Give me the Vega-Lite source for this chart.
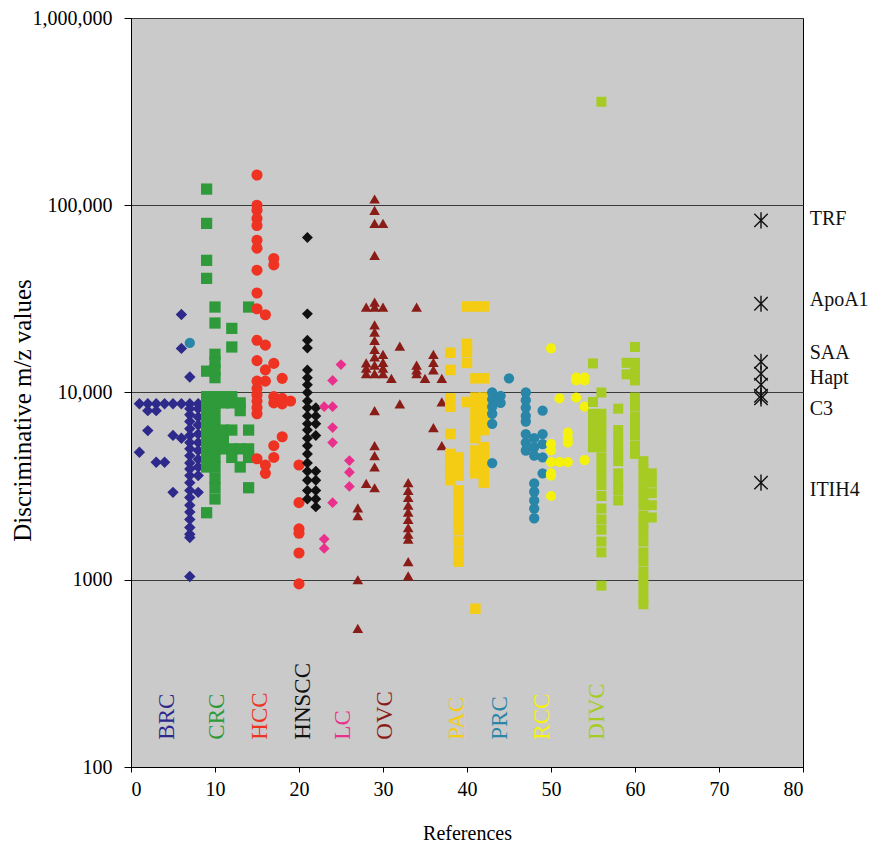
{
  "$schema": "https://vega.github.io/schema/vega-lite/v6.json",
  "autosize": {"type": "none"},
  "padding": {"left": 131, "top": 18, "right": 67, "bottom": 82},
  "width": 672,
  "height": 749,
  "background": "#ffffff",
  "config": {
    "font": "Liberation Serif",
    "view": {"fill": "#cacaca", "stroke": "#000000", "strokeWidth": 1},
    "axis": {"labelFont": "Liberation Serif", "titleFont": "Liberation Serif", "labelColor": "#000", "titleColor": "#000", "titleFontWeight": "normal", "domainColor": "#000", "tickColor": "#000"}
  },
  "datasets": {
    "pts": [
      {"g":"BRC","x":1,"y":8700},{"g":"BRC","x":2,"y":8700},{"g":"BRC","x":3,"y":8700},{"g":"BRC","x":4,"y":8700},{"g":"BRC","x":5,"y":8700},{"g":"BRC","x":6,"y":8700},{"g":"BRC","x":7,"y":8700},{"g":"BRC","x":8,"y":8700},
      {"g":"BRC","x":2,"y":8000},{"g":"BRC","x":3,"y":8000},
      {"g":"BRC","x":6,"y":26100},{"g":"BRC","x":6,"y":17200},{"g":"BRC","x":7,"y":12100},
      {"g":"BRC","x":2,"y":6260},{"g":"BRC","x":5,"y":5900},{"g":"BRC","x":6,"y":5700},{"g":"BRC","x":1,"y":4800},{"g":"BRC","x":3,"y":4240},{"g":"BRC","x":4,"y":4240},{"g":"BRC","x":5,"y":2930},{"g":"BRC","x":8,"y":2930},
      {"g":"BRC","x":7,"y":8200},{"g":"BRC","x":7,"y":7600},{"g":"BRC","x":7,"y":7000},{"g":"BRC","x":7,"y":6400},{"g":"BRC","x":7,"y":5900},{"g":"BRC","x":7,"y":5400},{"g":"BRC","x":7,"y":5000},{"g":"BRC","x":7,"y":4600},{"g":"BRC","x":7,"y":4200},{"g":"BRC","x":7,"y":3900},{"g":"BRC","x":7,"y":3600},{"g":"BRC","x":7,"y":3300},{"g":"BRC","x":7,"y":3000},{"g":"BRC","x":7,"y":2750},{"g":"BRC","x":7,"y":2500},{"g":"BRC","x":7,"y":2300},{"g":"BRC","x":7,"y":2100},{"g":"BRC","x":7,"y":1900},{"g":"BRC","x":7,"y":1750},{"g":"BRC","x":7,"y":1680},{"g":"BRC","x":7,"y":1040},
      {"g":"BRC","x":8,"y":8200},{"g":"BRC","x":8,"y":7400},{"g":"BRC","x":8,"y":6700},{"g":"BRC","x":8,"y":6000},{"g":"BRC","x":8,"y":5400},{"g":"BRC","x":8,"y":4900},{"g":"BRC","x":8,"y":4400},{"g":"BRC","x":8,"y":4000},{"g":"BRC","x":8,"y":3600},

      {"g":"CRC","x":9,"y":122000},{"g":"CRC","x":9,"y":80000},{"g":"CRC","x":9,"y":50800},{"g":"CRC","x":9,"y":40700},{"g":"CRC","x":9,"y":13000},{"g":"CRC","x":9,"y":9500},{"g":"CRC","x":9,"y":8800},{"g":"CRC","x":9,"y":8000},{"g":"CRC","x":9,"y":7000},{"g":"CRC","x":9,"y":6300},{"g":"CRC","x":9,"y":5600},{"g":"CRC","x":9,"y":5000},{"g":"CRC","x":9,"y":4500},{"g":"CRC","x":9,"y":4000},{"g":"CRC","x":9,"y":2280},
      {"g":"CRC","x":10,"y":28600},{"g":"CRC","x":10,"y":23500},{"g":"CRC","x":10,"y":16000},{"g":"CRC","x":10,"y":14500},{"g":"CRC","x":10,"y":13200},{"g":"CRC","x":10,"y":12000},{"g":"CRC","x":10,"y":9500},{"g":"CRC","x":10,"y":8800},{"g":"CRC","x":10,"y":8000},{"g":"CRC","x":10,"y":7000},{"g":"CRC","x":10,"y":6300},{"g":"CRC","x":10,"y":5600},{"g":"CRC","x":10,"y":5000},{"g":"CRC","x":10,"y":4500},{"g":"CRC","x":10,"y":4000},{"g":"CRC","x":10,"y":3500},{"g":"CRC","x":10,"y":3100},{"g":"CRC","x":10,"y":2700},
      {"g":"CRC","x":11,"y":9500},{"g":"CRC","x":11,"y":8800},{"g":"CRC","x":11,"y":6300},{"g":"CRC","x":11,"y":5600},{"g":"CRC","x":11,"y":5000},
      {"g":"CRC","x":12,"y":22000},{"g":"CRC","x":12,"y":17500},{"g":"CRC","x":12,"y":9500},{"g":"CRC","x":12,"y":8800},{"g":"CRC","x":12,"y":6300},{"g":"CRC","x":12,"y":5000},{"g":"CRC","x":12,"y":4500},
      {"g":"CRC","x":13,"y":8800},{"g":"CRC","x":13,"y":8000},{"g":"CRC","x":13,"y":5000},{"g":"CRC","x":13,"y":4000},
      {"g":"CRC","x":14,"y":28600},{"g":"CRC","x":14,"y":6300},{"g":"CRC","x":14,"y":5000},{"g":"CRC","x":14,"y":4500},{"g":"CRC","x":14,"y":3100},

      {"g":"HCC","x":15,"y":145000},{"g":"HCC","x":15,"y":100000},{"g":"HCC","x":15,"y":94000},{"g":"HCC","x":15,"y":85000},{"g":"HCC","x":15,"y":78000},{"g":"HCC","x":15,"y":65000},{"g":"HCC","x":15,"y":59000},{"g":"HCC","x":15,"y":45000},{"g":"HCC","x":15,"y":34000},{"g":"HCC","x":15,"y":28000},{"g":"HCC","x":15,"y":19000},{"g":"HCC","x":15,"y":14800},{"g":"HCC","x":15,"y":11500},{"g":"HCC","x":15,"y":10500},{"g":"HCC","x":15,"y":9700},{"g":"HCC","x":15,"y":9000},{"g":"HCC","x":15,"y":8300},{"g":"HCC","x":15,"y":7700},{"g":"HCC","x":15,"y":4430},
      {"g":"HCC","x":16,"y":26000},{"g":"HCC","x":16,"y":17900},{"g":"HCC","x":16,"y":13200},{"g":"HCC","x":16,"y":11500},{"g":"HCC","x":16,"y":4100},{"g":"HCC","x":16,"y":3700},
      {"g":"HCC","x":17,"y":52000},{"g":"HCC","x":17,"y":48000},{"g":"HCC","x":17,"y":14300},{"g":"HCC","x":17,"y":9500},{"g":"HCC","x":17,"y":8800},{"g":"HCC","x":17,"y":5200},{"g":"HCC","x":17,"y":4500},
      {"g":"HCC","x":18,"y":11900},{"g":"HCC","x":18,"y":9300},{"g":"HCC","x":18,"y":8700},{"g":"HCC","x":18,"y":5800},
      {"g":"HCC","x":19,"y":9000},
      {"g":"HCC","x":20,"y":4100},{"g":"HCC","x":20,"y":2580},{"g":"HCC","x":20,"y":1870},{"g":"HCC","x":20,"y":1770},{"g":"HCC","x":20,"y":1390},{"g":"HCC","x":20,"y":950},

      {"g":"HNSCC","x":21,"y":67200},{"g":"HNSCC","x":21,"y":26300},{"g":"HNSCC","x":21,"y":19000},{"g":"HNSCC","x":21,"y":17300},{"g":"HNSCC","x":21,"y":13200},{"g":"HNSCC","x":21,"y":12000},{"g":"HNSCC","x":21,"y":11000},{"g":"HNSCC","x":21,"y":10000},{"g":"HNSCC","x":21,"y":9000},{"g":"HNSCC","x":21,"y":8300},{"g":"HNSCC","x":21,"y":7500},{"g":"HNSCC","x":21,"y":6800},{"g":"HNSCC","x":21,"y":6300},{"g":"HNSCC","x":21,"y":5700},{"g":"HNSCC","x":21,"y":5200},{"g":"HNSCC","x":21,"y":4700},{"g":"HNSCC","x":21,"y":4200},{"g":"HNSCC","x":21,"y":3800},{"g":"HNSCC","x":21,"y":3400},{"g":"HNSCC","x":21,"y":3000},{"g":"HNSCC","x":21,"y":2700},
      {"g":"HNSCC","x":22,"y":8300},{"g":"HNSCC","x":22,"y":7500},{"g":"HNSCC","x":22,"y":6800},{"g":"HNSCC","x":22,"y":5900},{"g":"HNSCC","x":22,"y":3800},{"g":"HNSCC","x":22,"y":3400},{"g":"HNSCC","x":22,"y":3000},{"g":"HNSCC","x":22,"y":2700},{"g":"HNSCC","x":22,"y":2450},

      {"g":"LC","x":25,"y":14100},{"g":"LC","x":24,"y":11600},{"g":"LC","x":24,"y":8400},{"g":"LC","x":24,"y":6500},{"g":"LC","x":24,"y":5400},{"g":"LC","x":24,"y":2580},{"g":"LC","x":23,"y":8400},{"g":"LC","x":23,"y":1650},{"g":"LC","x":23,"y":1470},{"g":"LC","x":26,"y":4330},{"g":"LC","x":26,"y":3750},{"g":"LC","x":26,"y":3150},

      {"g":"OVC","x":29,"y":108000},{"g":"OVC","x":29,"y":94000},{"g":"OVC","x":29,"y":80000},{"g":"OVC","x":29,"y":54000},{"g":"OVC","x":29,"y":30400},{"g":"OVC","x":29,"y":28600},{"g":"OVC","x":29,"y":23000},{"g":"OVC","x":29,"y":21000},{"g":"OVC","x":29,"y":19000},{"g":"OVC","x":29,"y":17000},{"g":"OVC","x":29,"y":15500},{"g":"OVC","x":29,"y":14000},{"g":"OVC","x":29,"y":12600},{"g":"OVC","x":29,"y":8000},{"g":"OVC","x":29,"y":5200},{"g":"OVC","x":29,"y":4600},{"g":"OVC","x":29,"y":4000},{"g":"OVC","x":29,"y":3100},
      {"g":"OVC","x":28,"y":28600},{"g":"OVC","x":28,"y":14400},{"g":"OVC","x":28,"y":13500},{"g":"OVC","x":28,"y":12600},{"g":"OVC","x":28,"y":3270},
      {"g":"OVC","x":30,"y":80000},{"g":"OVC","x":30,"y":28600},{"g":"OVC","x":30,"y":16000},{"g":"OVC","x":30,"y":14500},{"g":"OVC","x":30,"y":13500},{"g":"OVC","x":30,"y":12600},
      {"g":"OVC","x":31,"y":11900},{"g":"OVC","x":32,"y":17700},{"g":"OVC","x":32,"y":8700},
      {"g":"OVC","x":34,"y":28600},{"g":"OVC","x":34,"y":14000},{"g":"OVC","x":34,"y":13200},{"g":"OVC","x":34,"y":12600},
      {"g":"OVC","x":36,"y":16000},{"g":"OVC","x":36,"y":14500},{"g":"OVC","x":36,"y":13200},{"g":"OVC","x":36,"y":6500},
      {"g":"OVC","x":35,"y":11900},{"g":"OVC","x":37,"y":11900},{"g":"OVC","x":37,"y":8900},{"g":"OVC","x":37,"y":5200},
      {"g":"OVC","x":27,"y":2420},{"g":"OVC","x":27,"y":2200},{"g":"OVC","x":27,"y":1000},{"g":"OVC","x":27,"y":550},
      {"g":"OVC","x":33,"y":3300},{"g":"OVC","x":33,"y":3000},{"g":"OVC","x":33,"y":2750},{"g":"OVC","x":33,"y":2500},{"g":"OVC","x":33,"y":2300},{"g":"OVC","x":33,"y":2100},{"g":"OVC","x":33,"y":1900},{"g":"OVC","x":33,"y":1750},{"g":"OVC","x":33,"y":1650},{"g":"OVC","x":33,"y":1250},{"g":"OVC","x":33,"y":1050},

      {"g":"PAC","x":40,"y":28800},{"g":"PAC","x":41,"y":28800},{"g":"PAC","x":42,"y":28800},
      {"g":"PAC","x":38,"y":16300},{"g":"PAC","x":38,"y":13200},{"g":"PAC","x":38,"y":9300},{"g":"PAC","x":38,"y":8400},{"g":"PAC","x":38,"y":6000},{"g":"PAC","x":38,"y":4700},{"g":"PAC","x":38,"y":4200},{"g":"PAC","x":38,"y":3800},{"g":"PAC","x":38,"y":3400},
      {"g":"PAC","x":39,"y":4500},{"g":"PAC","x":39,"y":4000},{"g":"PAC","x":39,"y":3600},{"g":"PAC","x":39,"y":3000},{"g":"PAC","x":39,"y":2750},{"g":"PAC","x":39,"y":2450},{"g":"PAC","x":39,"y":2200},{"g":"PAC","x":39,"y":2000},{"g":"PAC","x":39,"y":1840},{"g":"PAC","x":39,"y":1600},{"g":"PAC","x":39,"y":1400},{"g":"PAC","x":39,"y":1250},
      {"g":"PAC","x":40,"y":18200},{"g":"PAC","x":40,"y":16500},{"g":"PAC","x":40,"y":14400},{"g":"PAC","x":40,"y":8900},
      {"g":"PAC","x":41,"y":11900},{"g":"PAC","x":41,"y":9400},{"g":"PAC","x":41,"y":8500},{"g":"PAC","x":41,"y":7700},{"g":"PAC","x":41,"y":7000},{"g":"PAC","x":41,"y":6300},{"g":"PAC","x":41,"y":5700},{"g":"PAC","x":41,"y":4900},{"g":"PAC","x":41,"y":4400},{"g":"PAC","x":41,"y":4000},{"g":"PAC","x":41,"y":3700},{"g":"PAC","x":41,"y":700},
      {"g":"PAC","x":42,"y":11900},{"g":"PAC","x":42,"y":9400},{"g":"PAC","x":42,"y":8500},{"g":"PAC","x":42,"y":7700},{"g":"PAC","x":42,"y":7000},{"g":"PAC","x":42,"y":6300},{"g":"PAC","x":42,"y":5100},{"g":"PAC","x":42,"y":4900},{"g":"PAC","x":42,"y":4400},{"g":"PAC","x":42,"y":4000},{"g":"PAC","x":42,"y":3700},{"g":"PAC","x":42,"y":3300},

      {"g":"PRC","x":7,"y":18400},{"g":"PRC","x":45,"y":11900},
      {"g":"PRC","x":43,"y":10000},{"g":"PRC","x":43,"y":9200},{"g":"PRC","x":43,"y":8400},{"g":"PRC","x":43,"y":7700},{"g":"PRC","x":43,"y":6800},{"g":"PRC","x":43,"y":4200},
      {"g":"PRC","x":44,"y":9600},{"g":"PRC","x":44,"y":8800},
      {"g":"PRC","x":47,"y":10000},{"g":"PRC","x":47,"y":9100},{"g":"PRC","x":47,"y":8300},{"g":"PRC","x":47,"y":7500},{"g":"PRC","x":47,"y":7000},{"g":"PRC","x":47,"y":6000},{"g":"PRC","x":47,"y":5400},{"g":"PRC","x":47,"y":4900},
      {"g":"PRC","x":48,"y":5700},{"g":"PRC","x":48,"y":5100},{"g":"PRC","x":48,"y":4600},{"g":"PRC","x":48,"y":3270},{"g":"PRC","x":48,"y":2950},{"g":"PRC","x":48,"y":2650},{"g":"PRC","x":48,"y":2400},{"g":"PRC","x":48,"y":2130},
      {"g":"PRC","x":49,"y":8000},{"g":"PRC","x":49,"y":6000},{"g":"PRC","x":49,"y":5300},{"g":"PRC","x":49,"y":4500},{"g":"PRC","x":49,"y":3700},

      {"g":"RCC","x":50,"y":17200},{"g":"RCC","x":50,"y":5300},{"g":"RCC","x":50,"y":4900},{"g":"RCC","x":50,"y":4250},{"g":"RCC","x":50,"y":3700},{"g":"RCC","x":50,"y":3600},{"g":"RCC","x":50,"y":2800},
      {"g":"RCC","x":51,"y":9300},{"g":"RCC","x":51,"y":4250},
      {"g":"RCC","x":52,"y":6100},{"g":"RCC","x":52,"y":5700},{"g":"RCC","x":52,"y":5400},{"g":"RCC","x":52,"y":4250},
      {"g":"RCC","x":53,"y":12000},{"g":"RCC","x":53,"y":11600},{"g":"RCC","x":53,"y":9400},
      {"g":"RCC","x":54,"y":12000},{"g":"RCC","x":54,"y":11600},{"g":"RCC","x":54,"y":8400},{"g":"RCC","x":54,"y":4350},

      {"g":"DIVC","x":56,"y":357000},
      {"g":"DIVC","x":55,"y":14300},{"g":"DIVC","x":55,"y":8900},{"g":"DIVC","x":55,"y":7700},{"g":"DIVC","x":55,"y":7000},{"g":"DIVC","x":55,"y":6300},{"g":"DIVC","x":55,"y":5700},{"g":"DIVC","x":55,"y":5100},
      {"g":"DIVC","x":56,"y":10000},{"g":"DIVC","x":56,"y":7700},{"g":"DIVC","x":56,"y":7000},{"g":"DIVC","x":56,"y":6300},{"g":"DIVC","x":56,"y":5700},{"g":"DIVC","x":56,"y":5100},{"g":"DIVC","x":56,"y":4500},{"g":"DIVC","x":56,"y":4000},{"g":"DIVC","x":56,"y":3600},{"g":"DIVC","x":56,"y":3200},{"g":"DIVC","x":56,"y":2800},{"g":"DIVC","x":56,"y":2400},{"g":"DIVC","x":56,"y":2100},{"g":"DIVC","x":56,"y":1850},{"g":"DIVC","x":56,"y":1600},{"g":"DIVC","x":56,"y":1400},{"g":"DIVC","x":56,"y":930},
      {"g":"DIVC","x":58,"y":8200},{"g":"DIVC","x":58,"y":6300},{"g":"DIVC","x":58,"y":5700},{"g":"DIVC","x":58,"y":5100},{"g":"DIVC","x":58,"y":4700},{"g":"DIVC","x":58,"y":4300},{"g":"DIVC","x":58,"y":3700},{"g":"DIVC","x":58,"y":3300},{"g":"DIVC","x":58,"y":3000},{"g":"DIVC","x":58,"y":2650},
      {"g":"DIVC","x":59,"y":14400},{"g":"DIVC","x":59,"y":12500},
      {"g":"DIVC","x":60,"y":17500},{"g":"DIVC","x":60,"y":14400},{"g":"DIVC","x":60,"y":13000},{"g":"DIVC","x":60,"y":11600},{"g":"DIVC","x":60,"y":9400},{"g":"DIVC","x":60,"y":8400},{"g":"DIVC","x":60,"y":7400},{"g":"DIVC","x":60,"y":6600},{"g":"DIVC","x":60,"y":5900},{"g":"DIVC","x":60,"y":5200},{"g":"DIVC","x":60,"y":4700},
      {"g":"DIVC","x":61,"y":4300},{"g":"DIVC","x":61,"y":3900},{"g":"DIVC","x":61,"y":3500},{"g":"DIVC","x":61,"y":3100},{"g":"DIVC","x":61,"y":2800},{"g":"DIVC","x":61,"y":2500},{"g":"DIVC","x":61,"y":2200},{"g":"DIVC","x":61,"y":2000},{"g":"DIVC","x":61,"y":1800},{"g":"DIVC","x":61,"y":1600},{"g":"DIVC","x":61,"y":1400},{"g":"DIVC","x":61,"y":1250},{"g":"DIVC","x":61,"y":1100},{"g":"DIVC","x":61,"y":1000},{"g":"DIVC","x":61,"y":900},{"g":"DIVC","x":61,"y":800},{"g":"DIVC","x":61,"y":740},
      {"g":"DIVC","x":62,"y":3700},{"g":"DIVC","x":62,"y":3300},{"g":"DIVC","x":62,"y":2900},{"g":"DIVC","x":62,"y":2500},{"g":"DIVC","x":62,"y":2150}
    ],
    "cats": [
      {"g":"BRC","x":4.25,"y":140},{"g":"CRC","x":10.2,"y":140},{"g":"HCC","x":15.4,"y":140},{"g":"HNSCC","x":20.5,"y":140},{"g":"LC","x":25.2,"y":140},{"g":"OVC","x":30.2,"y":140},{"g":"PAC","x":38.8,"y":140},{"g":"PRC","x":43.9,"y":140},{"g":"RCC","x":48.9,"y":140},{"g":"DIVC","x":55.5,"y":140}
    ],
    "stars": [
      {"x":75,"y":83000},{"x":75,"y":29800},{"x":75,"y":14600},{"x":75,"y":12600},{"x":75,"y":11000},{"x":75,"y":9600},{"x":75,"y":9300},{"x":75,"y":3300}
    ],
    "proteins": [
      {"name":"TRF","x":80.8,"y":84500},{"name":"ApoA1","x":80.8,"y":31200},{"name":"SAA","x":80.8,"y":16300},{"name":"Hapt","x":80.8,"y":11970},{"name":"C3","x":80.8,"y":8175},{"name":"ITIH4","x":80.8,"y":3020}
    ]
  },
  "layer": [
    {
      "data": {"name": "pts"},
      "mark": {"type": "point", "filled": true, "opacity": 1},
      "encoding": {
        "x": {"field": "x", "type": "quantitative", "scale": {"domain": [0, 80], "nice": false, "zero": false},
              "axis": {"values": [0,10,20,30,40,50,60,70,80], "grid": false, "labelFont": "Liberation Serif", "titleFont": "Liberation Serif", "labelFontSize": 20, "tickSize": 5, "labelPadding": 7, "title": "References", "titleFontSize": 20, "titleFontWeight": "normal", "titleY": 66, "titleBaseline": "middle"}},
        "y": {"field": "y", "type": "quantitative", "scale": {"type": "log", "domain": [100, 1000000], "nice": false},
              "axis": {"values": [100,1000,10000,100000,1000000], "labelExpr": "datum.value >= 10000 ? format(datum.value, ',') : format(datum.value, 'd')", "grid": true, "gridColor": "#3a3a3a", "gridWidth": 1, "gridOpacity": 1, "labelFont": "Liberation Serif", "titleFont": "Liberation Serif", "labelFontSize": 20, "tickSize": 7, "labelPadding": 12, "title": "Discriminative m/z values", "titleFontSize": 25, "titleFontWeight": "normal", "titleX": -109, "titleY": 392, "titleAlign": "center", "titleBaseline": "middle", "titleAngle": 270}},
        "color": {"field": "g", "type": "nominal", "legend": null,
                  "scale": {"domain": ["BRC","CRC","HCC","HNSCC","LC","OVC","PAC","PRC","RCC","DIVC"],
                            "range": ["#2e2a8c","#2e9a3a","#ee3322","#111111","#e8308c","#8a1c18","#f4cc14","#2a86a8","#f4f20c","#a6cc24"]}},
        "shape": {"field": "g", "type": "nominal", "legend": null,
                  "scale": {"domain": ["BRC","CRC","HCC","HNSCC","LC","OVC","PAC","PRC","RCC","DIVC"],
                            "range": ["diamond","square","circle","diamond","diamond","triangle-up","square","circle","circle","square"]}},
        "size": {"field": "g", "type": "nominal", "legend": null,
                 "scale": {"domain": ["BRC","CRC","HCC","HNSCC","LC","OVC","PAC","PRC","RCC","DIVC"],
                           "range": [130,100,115,130,110,130,100,115,110,100]}}
      }
    },
    {
      "data": {"name": "stars"},
      "mark": {"type": "point", "shape": "M-1,-1L1,1M1,-1L-1,1M0,-1.2L0,1.2", "filled": false, "stroke": "#111", "strokeWidth": 1.4, "size": 180, "opacity": 1},
      "encoding": {
        "x": {"field": "x", "type": "quantitative"},
        "y": {"field": "y", "type": "quantitative"}
      }
    },
    {
      "data": {"name": "cats"},
      "mark": {"type": "text", "angle": 270, "align": "left", "baseline": "middle", "font": "Liberation Serif", "fontSize": 23},
      "encoding": {
        "x": {"field": "x", "type": "quantitative"},
        "y": {"field": "y", "type": "quantitative"},
        "text": {"field": "g"},
        "color": {"field": "g", "type": "nominal", "legend": null}
      }
    },
    {
      "data": {"name": "proteins"},
      "mark": {"type": "text", "align": "left", "baseline": "middle", "font": "Liberation Serif", "fontSize": 20, "color": "#111"},
      "encoding": {
        "x": {"field": "x", "type": "quantitative"},
        "y": {"field": "y", "type": "quantitative"},
        "text": {"field": "name"}
      }
    }
  ]
}
